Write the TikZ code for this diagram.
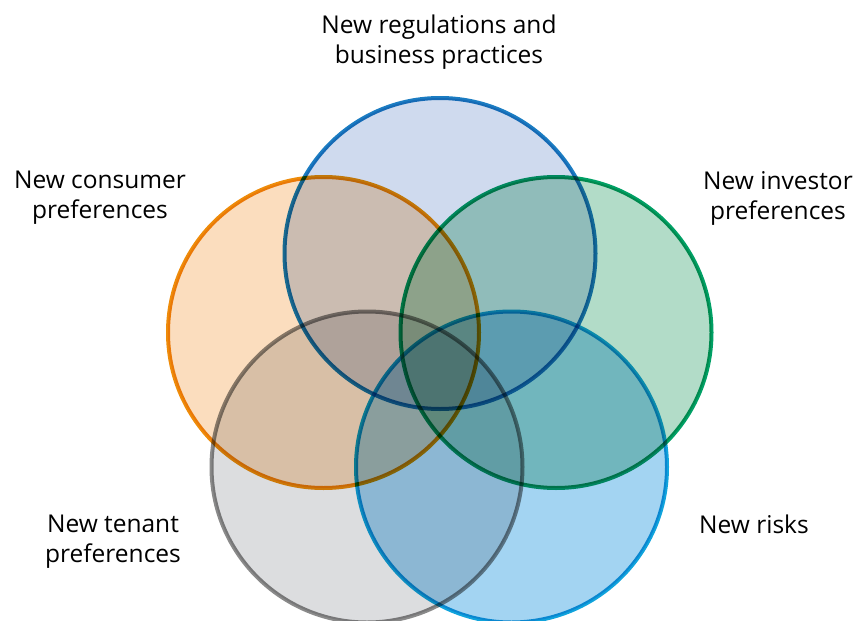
\documentclass[tikz,border=0pt]{standalone}
\usepackage{fontspec}
\setmainfont{Open Sans}
\definecolor{topfill}{HTML}{CFDAEE}
\definecolor{topline}{HTML}{1B7CC2}
\definecolor{leftfill}{HTML}{FBDDBE}
\definecolor{leftline}{HTML}{EE8C0A}
\definecolor{rightfill}{HTML}{B2DCC8}
\definecolor{rightline}{HTML}{00A065}
\definecolor{greyfill}{HTML}{DCDDDF}
\definecolor{greyline}{HTML}{8A8A8A}
\definecolor{skyfill}{HTML}{A3D4F2}
\definecolor{skyline}{HTML}{10A3DC}
\begin{document}
\begin{tikzpicture}[x=1pt,y=-1pt,
  ring/.style={circle,minimum size=311pt,inner sep=0pt,line width=4pt},
  caption/.style={align=center,font=\fontsize{24.5}{30}\selectfont,inner sep=0pt}]
\useasboundingbox (0,0) rectangle (857,621);
\begin{scope}[blend group=multiply]
  \node[ring,draw=topline,fill=topfill]    (reg)  at (440,253.5) {};
  \node[ring,draw=leftline,fill=leftfill]  (cons) at (323.5,332.5) {};
  \node[ring,draw=rightline,fill=rightfill](inv)  at (556,332.5) {};
  \node[ring,draw=greyline,fill=greyfill]  (ten)  at (367,467) {};
  \node[ring,draw=skyline,fill=skyfill]    (risk) at (511.5,467) {};
\end{scope}
\node[caption] (lreg)  at (439,42)  {New regulations and\\business practices};
\node[caption] (lcons) at (100,198) {New consumer\\preferences};
\node[caption] (linv)  at (778,198) {New investor\\preferences};
\node[caption] (lten)  at (113,542) {New tenant\\preferences};
\node[caption] (lrisk) at (754,524) {New risks};
\end{tikzpicture}
\end{document}
